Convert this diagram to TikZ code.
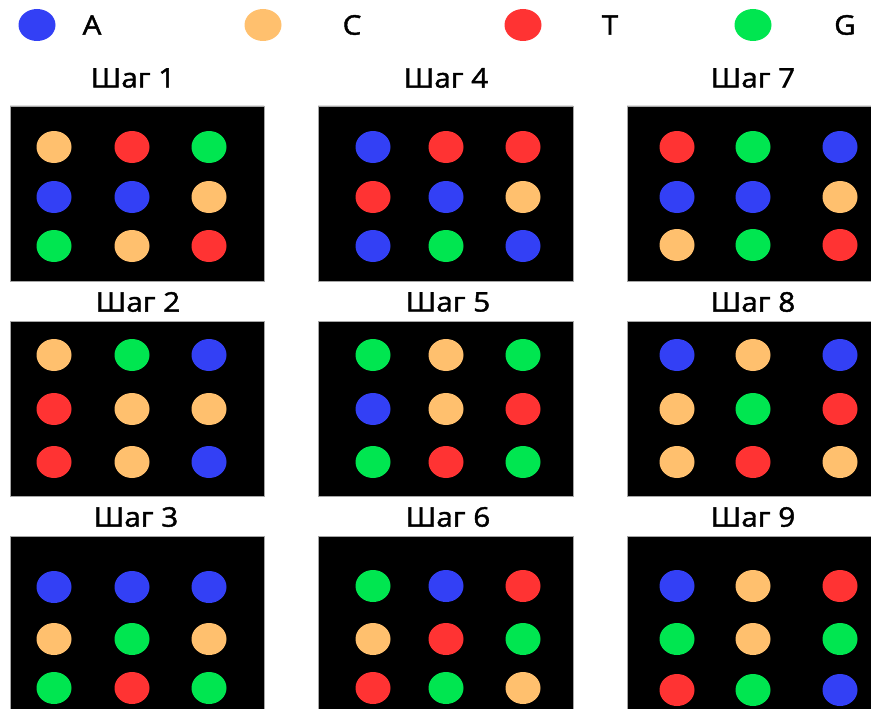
\documentclass[tikz,border=0pt]{standalone}
\usepackage{fontspec}
\setmainfont{Open Sans}[UprightFeatures={FakeBold=1.6},FakeStretch=1.1]
\usepackage{tikz}
\usepackage{xcolor}
\usetikzlibrary{positioning}

\definecolor{nucA}{RGB}{51,64,245}
\definecolor{nucC}{RGB}{255,192,110}
\definecolor{nucT}{RGB}{255,51,51}
\definecolor{nucG}{RGB}{0,230,80}

\tikzset{
  panel/.style={fill=black,draw=black!35,line width=0.8pt},
  lbl/.style={font=\fontsize{27}{30}\selectfont,inner sep=0pt},
  nuc/.style={fill=nuc#1}
}
\newcommand{\nucrow}[4]{%
  \fill[nuc=#2] (\xa,#1) ellipse [x radius=17.5,y radius=16];
  \fill[nuc=#3] (\xb,#1) ellipse [x radius=17.5,y radius=16];
  \fill[nuc=#4] (\xc,#1) ellipse [x radius=17.5,y radius=16];}

\begin{document}
\begin{tikzpicture}[x=1pt,y=-1pt]
\useasboundingbox (0,0) rectangle (871,709);
\clip (0,0) rectangle (871,709);

\fill[nuc=A] (37,25) ellipse [x radius=18.5,y radius=16];
\fill[nuc=C] (263,25) ellipse [x radius=18.5,y radius=16];
\fill[nuc=T] (523,25) ellipse [x radius=18.5,y radius=16];
\fill[nuc=G] (753,25) ellipse [x radius=18.5,y radius=16];
\node[lbl] (keyA) at (92,25) {A};
\node[lbl] (keyC) at (352,25) {C};
\node[lbl] (keyT) at (610,25) {T};
\node[lbl] (keyG) at (845,25) {G};

\draw[panel] (10,106) rectangle (264,281) (10,321) rectangle (264,496) (10,536) rectangle (264,712);
\draw[panel] (318,106) rectangle (573,281) (318,321) rectangle (573,496) (318,536) rectangle (573,712);
\draw[panel] (627,106) rectangle (875,281) (627,321) rectangle (875,496) (627,536) rectangle (875,712);

\node[lbl] (step1) at (133,78) {Шаг 1};
\node[lbl] (step2) at (138,302) {Шаг 2};
\node[lbl] (step3) at (136,517) {Шаг 3};
\node[lbl] (step4) at (446,78) {Шаг 4};
\node[lbl] (step5) at (448,302) {Шаг 5};
\node[lbl] (step6) at (448,517) {Шаг 6};
\node[lbl] (step7) at (753,78) {Шаг 7};
\node[lbl] (step8) at (753,302) {Шаг 8};
\node[lbl] (step9) at (753,517) {Шаг 9};

\def\xa{54}\def\xb{132}\def\xc{209}
\nucrow{147}{C}{T}{G} \nucrow{197}{A}{A}{C} \nucrow{246}{G}{C}{T}
\nucrow{355}{C}{G}{A} \nucrow{409}{T}{C}{C} \nucrow{462}{T}{C}{A}
\nucrow{587}{A}{A}{A} \nucrow{639}{C}{G}{C} \nucrow{688}{G}{T}{G}

\def\xa{373}\def\xb{446}\def\xc{523}
\nucrow{147}{A}{T}{T} \nucrow{197}{T}{A}{C} \nucrow{246}{A}{G}{A}
\nucrow{355}{G}{C}{G} \nucrow{409}{A}{C}{T} \nucrow{462}{G}{T}{G}
\nucrow{586}{G}{A}{T} \nucrow{639}{C}{T}{G} \nucrow{688}{T}{G}{C}

\def\xa{677}\def\xb{753}\def\xc{840}
\nucrow{147}{T}{G}{A} \nucrow{197}{A}{A}{C} \nucrow{245}{C}{G}{T}
\nucrow{355}{A}{C}{A} \nucrow{409}{C}{G}{T} \nucrow{462}{C}{T}{C}
\nucrow{586}{A}{C}{T} \nucrow{639}{G}{C}{G} \nucrow{690}{T}{G}{A}
\end{tikzpicture}
\end{document}
